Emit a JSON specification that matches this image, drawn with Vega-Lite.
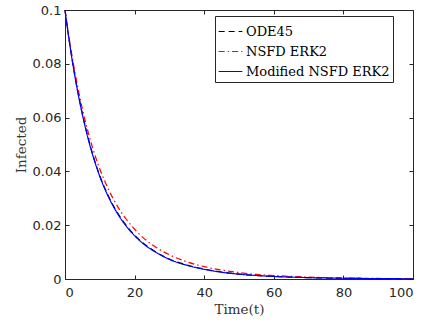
{
  "$schema": "https://vega.github.io/schema/vega-lite/v6.json",
  "width": 348,
  "height": 269,
  "autosize": {"type": "none"},
  "padding": {"left": 65, "top": 10, "right": 14, "bottom": 44},
  "background": "white",
  "config": {
    "view": {"stroke": "#262626", "strokeWidth": 1},
    "axis": {
      "grid": false,
      "domainColor": "#262626",
      "tickColor": "#262626",
      "labelColor": "#262626",
      "labelFont": "DejaVu Sans",
      "labelFontSize": 13,
      "titleFont": "DejaVu Serif",
      "titleFontSize": 13.5,
      "titleFontWeight": "normal",
      "titleColor": "#333333",
      "tickSize": -4
    }
  },
  "data": {"values": [
    {"t": 0, "v": 0.1, "s": "ODE45"}, {"t": 1, "v": 0.0906, "s": "ODE45"}, {"t": 2, "v": 0.0821, "s": "ODE45"}, {"t": 3, "v": 0.0744, "s": "ODE45"}, {"t": 4, "v": 0.0676, "s": "ODE45"}, {"t": 5, "v": 0.0614, "s": "ODE45"}, {"t": 6, "v": 0.0558, "s": "ODE45"}, {"t": 7, "v": 0.0508, "s": "ODE45"}, {"t": 8, "v": 0.0462, "s": "ODE45"}, {"t": 9, "v": 0.0421, "s": "ODE45"}, {"t": 10, "v": 0.0384, "s": "ODE45"}, {"t": 12.5, "v": 0.0308, "s": "ODE45"}, {"t": 15, "v": 0.0248, "s": "ODE45"}, {"t": 17.5, "v": 0.0201, "s": "ODE45"}, {"t": 20, "v": 0.0163, "s": "ODE45"}, {"t": 22.5, "v": 0.0133, "s": "ODE45"}, {"t": 25, "v": 0.011, "s": "ODE45"}, {"t": 27.5, "v": 0.009, "s": "ODE45"}, {"t": 30, "v": 0.0074, "s": "ODE45"}, {"t": 35, "v": 0.0052, "s": "ODE45"}, {"t": 40, "v": 0.0037, "s": "ODE45"}, {"t": 45, "v": 0.0026, "s": "ODE45"}, {"t": 50, "v": 0.0018, "s": "ODE45"}, {"t": 55, "v": 0.0013, "s": "ODE45"}, {"t": 60, "v": 0.00096, "s": "ODE45"}, {"t": 70, "v": 0.0005, "s": "ODE45"}, {"t": 80, "v": 0.00027, "s": "ODE45"}, {"t": 90, "v": 0.00015, "s": "ODE45"}, {"t": 100, "v": 0.00008, "s": "ODE45"},
    {"t": 0, "v": 0.1, "s": "NSFD ERK2"}, {"t": 1, "v": 0.0912, "s": "NSFD ERK2"}, {"t": 2, "v": 0.0831, "s": "NSFD ERK2"}, {"t": 3, "v": 0.0758, "s": "NSFD ERK2"}, {"t": 4, "v": 0.0692, "s": "NSFD ERK2"}, {"t": 5, "v": 0.0632, "s": "NSFD ERK2"}, {"t": 6, "v": 0.0578, "s": "NSFD ERK2"}, {"t": 7, "v": 0.0529, "s": "NSFD ERK2"}, {"t": 8, "v": 0.0485, "s": "NSFD ERK2"}, {"t": 9, "v": 0.0445, "s": "NSFD ERK2"}, {"t": 10, "v": 0.0409, "s": "NSFD ERK2"}, {"t": 12.5, "v": 0.0333, "s": "NSFD ERK2"}, {"t": 15, "v": 0.0272, "s": "NSFD ERK2"}, {"t": 17.5, "v": 0.0224, "s": "NSFD ERK2"}, {"t": 20, "v": 0.0185, "s": "NSFD ERK2"}, {"t": 22.5, "v": 0.0153, "s": "NSFD ERK2"}, {"t": 25, "v": 0.0128, "s": "NSFD ERK2"}, {"t": 27.5, "v": 0.0107, "s": "NSFD ERK2"}, {"t": 30, "v": 0.009, "s": "NSFD ERK2"}, {"t": 35, "v": 0.0064, "s": "NSFD ERK2"}, {"t": 40, "v": 0.0046, "s": "NSFD ERK2"}, {"t": 45, "v": 0.0033, "s": "NSFD ERK2"}, {"t": 50, "v": 0.0024, "s": "NSFD ERK2"}, {"t": 55, "v": 0.0017, "s": "NSFD ERK2"}, {"t": 60, "v": 0.0013, "s": "NSFD ERK2"}, {"t": 70, "v": 0.0007, "s": "NSFD ERK2"}, {"t": 80, "v": 0.0004, "s": "NSFD ERK2"}, {"t": 90, "v": 0.0002, "s": "NSFD ERK2"}, {"t": 100, "v": 0.0001, "s": "NSFD ERK2"},
    {"t": 0, "v": 0.1, "s": "Modified NSFD ERK2"}, {"t": 1, "v": 0.0905, "s": "Modified NSFD ERK2"}, {"t": 2, "v": 0.0819, "s": "Modified NSFD ERK2"}, {"t": 3, "v": 0.0742, "s": "Modified NSFD ERK2"}, {"t": 4, "v": 0.0673, "s": "Modified NSFD ERK2"}, {"t": 5, "v": 0.0611, "s": "Modified NSFD ERK2"}, {"t": 6, "v": 0.0555, "s": "Modified NSFD ERK2"}, {"t": 7, "v": 0.0504, "s": "Modified NSFD ERK2"}, {"t": 8, "v": 0.0459, "s": "Modified NSFD ERK2"}, {"t": 9, "v": 0.0418, "s": "Modified NSFD ERK2"}, {"t": 10, "v": 0.0381, "s": "Modified NSFD ERK2"}, {"t": 12.5, "v": 0.0305, "s": "Modified NSFD ERK2"}, {"t": 15, "v": 0.0245, "s": "Modified NSFD ERK2"}, {"t": 17.5, "v": 0.0198, "s": "Modified NSFD ERK2"}, {"t": 20, "v": 0.0161, "s": "Modified NSFD ERK2"}, {"t": 22.5, "v": 0.0131, "s": "Modified NSFD ERK2"}, {"t": 25, "v": 0.0108, "s": "Modified NSFD ERK2"}, {"t": 27.5, "v": 0.0089, "s": "Modified NSFD ERK2"}, {"t": 30, "v": 0.0073, "s": "Modified NSFD ERK2"}, {"t": 35, "v": 0.0051, "s": "Modified NSFD ERK2"}, {"t": 40, "v": 0.0036, "s": "Modified NSFD ERK2"}, {"t": 45, "v": 0.0025, "s": "Modified NSFD ERK2"}, {"t": 50, "v": 0.0018, "s": "Modified NSFD ERK2"}, {"t": 55, "v": 0.0013, "s": "Modified NSFD ERK2"}, {"t": 60, "v": 0.00095, "s": "Modified NSFD ERK2"}, {"t": 70, "v": 0.0005, "s": "Modified NSFD ERK2"}, {"t": 80, "v": 0.00027, "s": "Modified NSFD ERK2"}, {"t": 90, "v": 0.00015, "s": "Modified NSFD ERK2"}, {"t": 100, "v": 0.00008, "s": "Modified NSFD ERK2"}
  ]},
  "resolve": {"axis": {"x": "independent", "y": "independent"}},
  "layer": [
    {
      "mark": {"type": "line", "strokeWidth": 1.2, "interpolate": "monotone"},
      "encoding": {
        "x": {"field": "t", "type": "quantitative", "scale": {"domain": [0, 100], "nice": false},
              "axis": {"title": "Time(t)", "values": [0, 20, 40, 60, 80, 100], "labelPadding": 11, "titlePadding": 3}},
        "y": {"field": "v", "type": "quantitative", "scale": {"domain": [0, 0.1], "nice": false},
              "axis": {"title": "Infected", "values": [0, 0.02, 0.04, 0.06, 0.08, 0.1], "format": ".2~f", "labelPadding": 8, "titlePadding": 4}},
        "color": {"field": "s", "type": "nominal",
                  "scale": {"domain": ["ODE45", "NSFD ERK2", "Modified NSFD ERK2"], "range": ["#000000", "#ff0000", "#0000ff"]},
                  "legend": {"title": null, "orient": "none", "legendX": 150, "legendY": 6,
                             "symbolType": "stroke", "symbolSize": 560, "symbolStrokeWidth": 1.2,
                             "labelFont": "DejaVu Serif", "labelFontSize": 13, "labelColor": "#000000", "labelLimit": 300,
                             "strokeColor": "#262626", "fillColor": "white", "padding": 3, "rowPadding": 0, "labelOffset": 3}},
        "strokeDash": {"field": "s", "type": "nominal",
                       "scale": {"domain": ["ODE45", "NSFD ERK2", "Modified NSFD ERK2"], "range": [[6, 4], [6, 3, 1.5, 3], [1, 0]]},
                       "legend": null},
        "order": {"field": "t", "type": "quantitative"}
      }
    },
    {
      "mark": {"type": "line", "opacity": 0},
      "encoding": {
        "x": {"field": "t", "type": "quantitative", "axis": {"orient": "top", "title": null, "labels": false, "values": [0, 20, 40, 60, 80, 100]}},
        "y": {"field": "v", "type": "quantitative", "axis": {"orient": "right", "title": null, "labels": false, "values": [0, 0.02, 0.04, 0.06, 0.08, 0.1]}}
      }
    }
  ]
}
